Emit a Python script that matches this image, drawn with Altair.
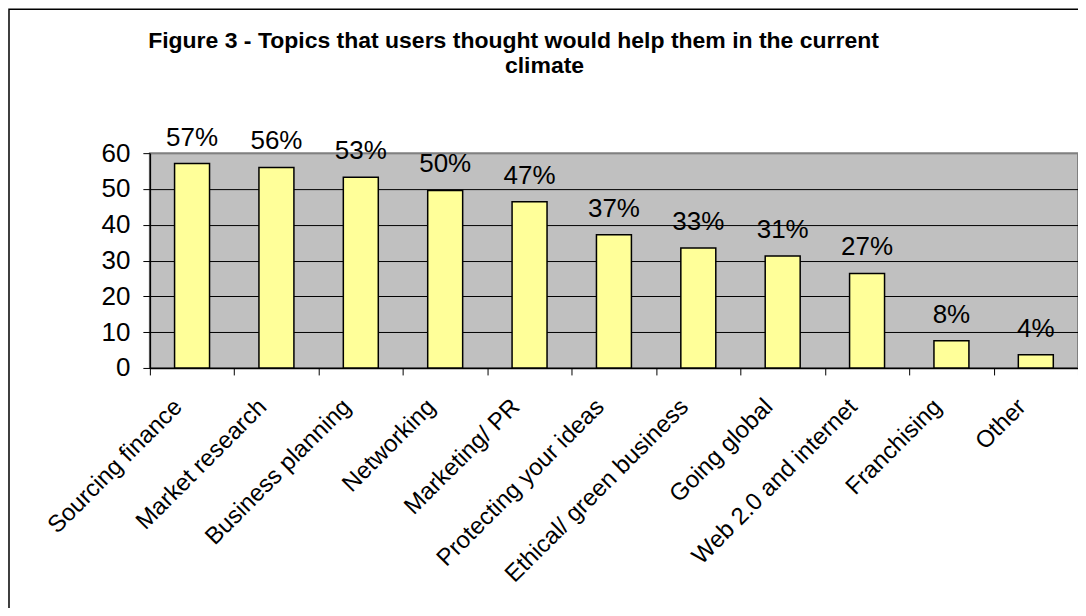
import altair as alt
import pandas as pd

topics = ["Sourcing finance", "Market research", "Business planning", "Networking",
          "Marketing/ PR", "Protecting your ideas", "Ethical/ green business",
          "Going global", "Web 2.0 and internet", "Franchising", "Other"]
values = [57.1, 56.0, 53.3, 49.6, 46.4, 37.2, 33.5, 31.3, 26.4, 7.6, 3.7]
labels = ["57%", "56%", "53%", "50%", "47%", "37%", "33%", "31%", "27%", "8%", "4%"]
y_ticks = [0, 10, 20, 30, 40, 50, 60]
title_line1 = "Figure 3 - Topics that users thought would help them in the current"
title_line2 = "climate"

df = pd.DataFrame({"topic": topics, "value": values, "label": labels})
FONT = "Liberation Sans"

x_enc = alt.X("topic:N", sort=topics, title=None,
              scale=alt.Scale(paddingInner=0, paddingOuter=0),
              axis=alt.Axis(labelAngle=-45, labelAlign="right", labelBaseline="middle",
                            labelFontSize=24, labelFont=FONT, labelColor="black",
                            labelPadding=28, labelOffset=-14, labelLimit=400,
                            labelOverlap=False, tickBand="extent",
                            tickColor="black", tickSize=7, tickWidth=1,
                            domainColor="black", domainWidth=1.5, grid=False))
y_enc = alt.Y("value:Q", title=None,
              scale=alt.Scale(domain=[0, 60], nice=False),
              axis=alt.Axis(values=y_ticks, tickCount=7, labelFontSize=26, labelFont=FONT,
                            labelColor="black", labelPadding=13, labelOverlap=False,
                            tickColor="black", tickSize=7, tickWidth=1,
                            domainColor="black", domainWidth=1.5,
                            grid=True, gridWidth=1,
                            gridColor=alt.condition("datum.value == 60", alt.value("#808080"), alt.value("black"))))

base = alt.Chart(df).encode(x=x_enc, y=y_enc)
bars = base.mark_bar(size=35, fill="#FFFF99", stroke="black", strokeWidth=1.5)
text = base.mark_text(dy=-18, baseline="alphabetic", fontSize=26, font=FONT,
                      color="black").encode(text="label:N")

one = pd.DataFrame({"f": [0]})
frame = alt.Chart(one).mark_rect(
    fillOpacity=0, stroke="black", strokeWidth=1.5).encode(
    x=alt.value(-141), x2=alt.value(960), y=alt.value(-144), y2=alt.value(480))

t1 = alt.Chart(one).mark_text(fontSize=23, font=FONT, fontWeight="bold", color="black",
                              align="center", baseline="alphabetic", text=title_line1).encode(
    x=alt.value(364), y=alt.value(-105))
t2 = alt.Chart(one).mark_text(fontSize=23, font=FONT, fontWeight="bold", color="black",
                              align="center", baseline="alphabetic", text=title_line2).encode(
    x=alt.value(395), y=alt.value(-80))

chart = alt.layer(bars, text, frame, t1, t2).properties(
    width=929, height=215,
    padding={"left": 142, "top": 145, "right": 0, "bottom": 240},
    autosize=alt.AutoSizeParams(type="none"),
    background="white",
).configure_view(fill="#C0C0C0", stroke="#808080", strokeWidth=2)

chart.save("out.html", embed_options={"renderer": "svg", "actions": False})
